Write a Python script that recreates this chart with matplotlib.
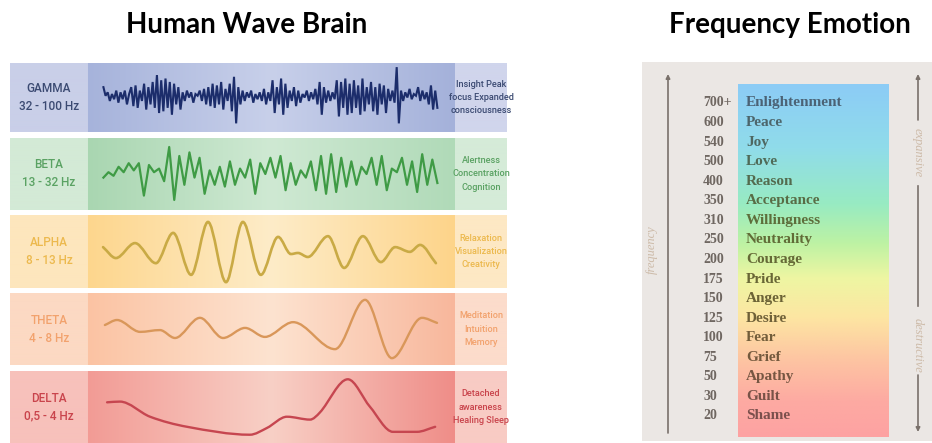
import numpy as np
import matplotlib
matplotlib.use("Agg")
import matplotlib.pyplot as plt
from matplotlib.path import Path
from matplotlib.patches import PathPatch
from matplotlib.colors import LinearSegmentedColormap, to_rgb

W, H = 932, 443

# ---------------- data ----------------
band_names = ["GAMMA", "BETA", "ALPHA", "THETA", "DELTA"]
band_ranges = ["32 - 100 Hz", "13 - 32 Hz", "8 - 13 Hz", "4 - 8 Hz", "0,5 - 4 Hz"]
band_states = ["Insight Peak\nfocus Expanded\nconsciousness",
               "Alertness\nConcentration\nCognition",
               "Relaxation\nVisualization\nCreativity",
               "Meditation\nIntuition\nMemory",
               "Detached\nawareness\nHealing Sleep"]

gamma_amp = [0.3, 0.05, 0.15, -0.1, 0.1, -0.05, 0.2, -0.15, 0.15, -0.05, 0.2, -0.2, 0.1,
             0.3, -0.25, 0.35, -0.3, 0.2, -0.1, 0.4, -0.35, 0.3, -0.2, 0.45, -0.3,
             0.65, -0.45, 0.5, -0.4, 0.55, -0.3, 0.45, -0.5, 0.4, -0.2, 0.3, -0.35,
             0.15, -0.1, 0.2, 0.0, 0.15, -0.15, 0.1, 0.05, 0.2, -0.1, 0.25, -0.2, 0.3, -0.25,
             0.4, -0.3, 0.35, -0.2, 0.45, -0.35, 0.25, -0.1, 0.4, -0.4, 0.6, -0.75, 0.3, -0.2,
             0.2, -0.1, 0.15, 0.0, 0.2, -0.15, 0.1, -0.05, 0.15, -0.1, 0.25, -0.2, 0.15, -0.1,
             0.5, -0.45, 0.3, -0.2, 0.55, -0.5, 0.4, -0.3, 0.2, -0.1, 0.3, -0.25, 0.2, -0.15,
             0.1, 0.0, 0.2, -0.1, 0.15, -0.05, 0.25, -0.2, 0.45, -0.5, 0.3, -0.15, 0.2, -0.1, 0.15, -0.05,
             0.5, -0.55, 0.45, -0.3, 0.55, -0.5, 0.4, -0.45, 0.5, -0.3, 0.35, -0.5, 0.55, -0.4, 0.3, -0.2,
             0.45, -0.4, 0.3, -0.5, 0.4, -0.2, 0.35, -0.45, 0.25, -0.1, 0.2, -0.15,
             0.88, -0.75,
             0.2, -0.1, 0.15, 0.0, 0.25, -0.05, 0.1, 0.05, 0.3, -0.1, 0.2, -0.05, 0.15, -0.2, 0.35, -0.35, 0.2, -0.3]

beta_amp = [-0.1, 0.05, -0.05, 0.2, 0.05, 0.3, 0.1, 0.3, -0.6, 0.25, 0.05, 0.15, -0.2, 0.75, -0.72,
            0.5, -0.3, 0.6, -0.1, 0.45, -0.55, 0.1, -0.3, 0.2, -0.35, 0.35, -0.3, 0.15, -0.1, 0.4,
            -0.55, 0.3, 0.0, 0.45, -0.1, 0.5, -0.45, 0.3, -0.3, 0.1, -0.1, 0.35, -0.45, 0.5, -0.55,
            0.55, -0.5, 0.45, -0.35, 0.35, -0.3, 0.2, 0.0, 0.45, -0.3, 0.5, -0.45, 0.15, 0.05, 0.45,
            -0.3, 0.35, -0.5, 0.55, -0.3, 0.4, -0.25]

alpha_t = [4.1, 7.6, 12.8, 18.5, 23.2, 28.1, 32.7, 37.6, 42.2, 47.1, 51.8, 55.3, 57.2, 59.9,
           65.4, 69.8, 74.9, 79.8, 83.7, 87.7, 90.5, 94.8]
alpha_amp = [0.12, -0.18, 0.23, -0.32, 0.51, -0.64, 0.81, -0.84, 0.81, -0.64, 0.40, -0.07, -0.04,
             -0.15, 0.42, -0.45, 0.42, -0.29, 0.12, -0.01, 0.18, -0.32]

theta_t = [4.6, 7.9, 14.2, 19.6, 23.7, 30.5, 36.8, 42.8, 48.2, 55.9, 67.3, 75.5, 82.8, 91.0, 95.1]
theta_amp = [0.11, 0.25, -0.08, -0.03, -0.25, 0.31, -0.25, 0.03, -0.22, 0.19, -0.56, 0.81, -0.81,
             0.31, 0.17]

delta_t = [5.2, 8.7, 16.9, 27.0, 44.1, 48.8, 54.2, 60.5, 63.2, 70.8, 76.8, 83.1, 89.6, 94.6]
delta_amp = [0.13, 0.15, -0.27, -0.55, -0.77, -0.58, -0.27, -0.35, -0.15, 0.77, 0.01, -0.69,
             -0.69, -0.55]

emotion_levels = ["700+", "600", "540", "500", "400", "350", "310", "250", "200",
                  "175", "150", "125", "100", "75", "50", "30", "20"]
emotion_names = ["Enlightenment", "Peace", "Joy", "Love", "Reason", "Acceptance",
                 "Willingness", "Neutrality", "Courage", "Pride", "Anger", "Desire",
                 "Fear", "Grief", "Apathy", "Guilt", "Shame"]

# ---------------- figure ----------------
fig = plt.figure(figsize=(W / 100, H / 100), dpi=100)
fig.patch.set_facecolor("white")


def px_axes(x0, y0, x1, y1, z=1):
    ax = fig.add_axes([x0 / W, 1 - y1 / H, (x1 - x0) / W, (y1 - y0) / H])
    ax.set_zorder(z)
    ax.axis("off")
    return ax


def smooth_path(xs, ys):
    xs = np.asarray(xs, float)
    ys = np.asarray(ys, float)
    n = len(xs)
    s = np.zeros(n)
    for i in range(n):
        if i == 0:
            s[i] = (ys[1] - ys[0]) / (xs[1] - xs[0])
        elif i == n - 1:
            s[i] = (ys[-1] - ys[-2]) / (xs[-1] - xs[-2])
        else:
            if (ys[i] - ys[i - 1]) * (ys[i + 1] - ys[i]) <= 0:
                s[i] = 0.0
            else:
                s[i] = (ys[i + 1] - ys[i - 1]) / (xs[i + 1] - xs[i - 1])
    verts = [(xs[0], ys[0])]
    codes = [Path.MOVETO]
    for i in range(n - 1):
        dx = xs[i + 1] - xs[i]
        verts += [(xs[i] + dx / 3, ys[i] + s[i] * dx / 3),
                  (xs[i + 1] - dx / 3, ys[i + 1] - s[i + 1] * dx / 3),
                  (xs[i + 1], ys[i + 1])]
        codes += [Path.CURVE4] * 3
    return Path(verts, codes)


NF = ["Liberation Sans Narrow", "Roboto", "DejaVu Sans"]

bands_y = [(63, 132), (138, 210), (215, 288), (293, 365), (371, 443)]
cell_left = ["#c9cfe8", "#d3ead6", "#fde6bd", "#fcd9c3", "#f7c1bb"]
wave_l = ["#a6b3db", "#a9d6b1", "#fdd68d", "#fbc3a3", "#f29b95"]
wave_c = ["#c8d0ea", "#cfe9d3", "#feecc8", "#fde3d0", "#f8d0c6"]
wave_r = ["#a4b1da", "#b0dab8", "#fdd48a", "#f8b79c", "#ef8d88"]
cell_right = ["#d0d5ec", "#d5ebd8", "#fde8c4", "#fcdccb", "#f8cbc4"]
line_col = ["#1c2d6b", "#3f9b45", "#c9aa45", "#d9975a", "#c64650"]
text_col = ["#3b4a72", "#5aa263", "#ecb94e", "#f2a26d", "#c9444c"]
lws = [1.5, 1.6, 1.9, 1.7, 1.7]

x_left, x_wave0, x_wave1, x_right = 10, 88, 455, 507

cols = np.arange(x_left, x_right) + 0.5
for k, (y0, y1) in enumerate(bands_y):
    bg = px_axes(x_left, y0, x_right, y1, z=1)
    img = np.zeros((1, len(cols), 3))
    cl, wl, wc, wr, cr = (np.array(to_rgb(c)) for c in
                          (cell_left[k], wave_l[k], wave_c[k], wave_r[k], cell_right[k]))
    for j, xc in enumerate(cols):
        if xc < x_wave0:
            img[0, j] = cl
        elif xc > x_wave1:
            img[0, j] = cr
        else:
            f = (xc - x_wave0) / (x_wave1 - x_wave0)
            if f < 0.5:
                img[0, j] = wl + (wc - wl) * (f / 0.5)
            else:
                img[0, j] = wc + (wr - wc) * ((f - 0.5) / 0.5)
    bg.imshow(img, aspect="auto", extent=[x_left, x_right, 0, 1], interpolation="bilinear")
    bg.set_xlim(x_left, x_right)
    bg.set_ylim(0, 1)
    bg.text((x_left + x_wave0) / 2, 0.5, band_names[k] + "\n" + band_ranges[k],
            ha="center", va="center", fontsize=8.5, color=text_col[k], family=NF,
            fontweight="medium", linespacing=1.5)
    bg.text((x_wave1 + x_right) / 2, 0.5, band_states[k], ha="center", va="center",
            fontsize=6.6, color=text_col[k], family=NF, fontweight="medium",
            linespacing=1.6)

    wa = px_axes(x_wave0, y0, x_wave1, y1, z=2)
    wa.set_xlim(0, 100)
    wa.set_ylim(-1, 1)
    if k == 0:
        t = np.linspace(4.2, 95.2, len(gamma_amp))
        wa.plot(t, gamma_amp, color=line_col[k], lw=lws[k], solid_joinstyle="miter")
    elif k == 1:
        t = np.linspace(4.2, 95.2, len(beta_amp))
        wa.plot(t, beta_amp, color=line_col[k], lw=lws[k], solid_joinstyle="round")
    else:
        tt, aa = [(alpha_t, alpha_amp), (theta_t, theta_amp), (delta_t, delta_amp)][k - 2]
        wa.add_patch(PathPatch(smooth_path(tt, aa), facecolor="none",
                               edgecolor=line_col[k], lw=lws[k], capstyle="round"))

# titles
TF = ["Lato", "DejaVu Sans"]
fig.text(247 / W, 1 - 25 / H, "Human Wave Brain", ha="center", va="center",
         fontsize=20, fontweight="bold", family=TF)
fig.text(790 / W, 1 - 25 / H, "Frequency Emotion", ha="center", va="center",
         fontsize=20, fontweight="bold", family=TF)

# ---------------- right panel ----------------
rx0, ry0, rx1, ry1 = 642, 62, 932, 441
row0, dy = 103, 19.56
ar = fig.add_axes([rx0 / W, 1 - ry1 / H, (rx1 - rx0) / W, (ry1 - ry0) / H])
ar.set_facecolor("#ebe7e4")
for s in ar.spines.values():
    s.set_visible(False)
ar.set_xticks([])
ar.set_yticks([])
ar.set_xlim(rx0, rx1)
ar.set_ylim((ry1 - row0) / dy, (ry0 - row0) / dy)


def rowpos(py):
    return (py - row0) / dy


grad = LinearSegmentedColormap.from_list("g", [
    (0.00, "#8cccf6"), (0.18, "#90dcea"), (0.34, "#98ebc2"), (0.45, "#bdf2a4"),
    (0.55, "#eef6a2"), (0.66, "#fde6a2"), (0.78, "#fdc5a2"), (0.90, "#fdaaa2"),
    (1.00, "#fda2a2")])
gimg = grad(np.linspace(0, 1, 256))[:, None, :3]
ar.imshow(gimg, aspect="auto", extent=[738, 889, rowpos(437), rowpos(85)],
          interpolation="bilinear", zorder=1)

txtc = LinearSegmentedColormap.from_list("t", ["#4b6275", "#4f6a55", "#5f6e38",
                                                "#6b6535", "#745a3c", "#7a4f4c"])
SF = ["Liberation Serif", "DejaVu Serif"]
for i, (lv, nm) in enumerate(zip(emotion_levels, emotion_names)):
    ar.text(703, i, lv, ha="left", va="center", fontsize=10, color="#6f6761",
            family=SF, fontweight="bold", zorder=3)
    ar.text(746, i, nm, ha="left", va="center", fontsize=11, color=txtc(i / 16),
            family=SF, fontweight="bold", zorder=3)

lc = "#7a716b"
ar.annotate("", xy=(668, rowpos(74)), xytext=(668, rowpos(433)),
            arrowprops=dict(arrowstyle="-|>", color=lc, lw=1.2, mutation_scale=6,
                            shrinkA=0, shrinkB=0), zorder=2)
ar.annotate("", xy=(918, rowpos(74)), xytext=(918, rowpos(120)),
            arrowprops=dict(arrowstyle="-|>", color=lc, lw=1.2, mutation_scale=6,
                            shrinkA=0, shrinkB=0), zorder=2)
ar.plot([918, 918], [rowpos(186), rowpos(306)], color=lc, lw=1.2, zorder=2)
ar.annotate("", xy=(918, rowpos(432)), xytext=(918, rowpos(375)),
            arrowprops=dict(arrowstyle="-|>", color=lc, lw=1.2, mutation_scale=6,
                            shrinkA=0, shrinkB=0), zorder=2)

sidec = "#cdbba9"
ar.text(652, rowpos(250), "frequency", rotation=90, ha="center", va="center",
        fontsize=9, style="italic", color=sidec, family=SF, zorder=3)
ar.text(918, rowpos(153), "expansive", rotation=270, ha="center", va="center",
        fontsize=9, style="italic", color=sidec, family=SF, zorder=3,
        bbox=dict(facecolor="#ebe7e4", edgecolor="none", pad=0.5))
ar.text(918, rowpos(345), "destructive", rotation=270, ha="center", va="center",
        fontsize=9, style="italic", color=sidec, family=SF, zorder=3,
        bbox=dict(facecolor="#ebe7e4", edgecolor="none", pad=0.5))

fig.savefig("out.png", dpi=100, facecolor="white")
